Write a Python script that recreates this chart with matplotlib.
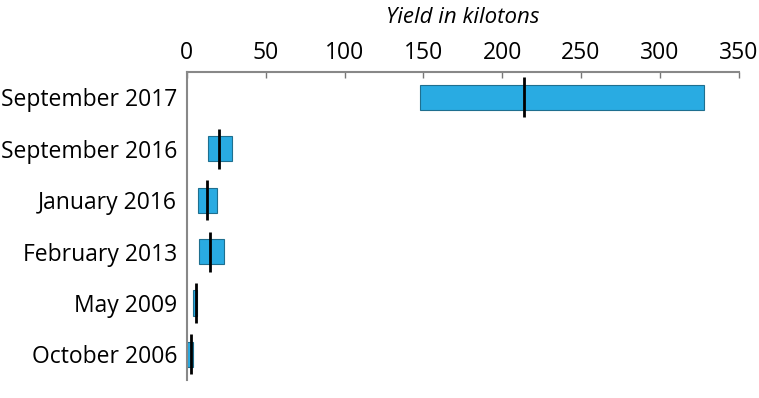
import matplotlib.pyplot as plt
import numpy as np

plt.rcParams['font.family'] = ['Open Sans', 'DejaVu Sans']

# Test dates, top to bottom
tests = ['September 2017', 'September 2016', 'January 2016',
         'February 2013', 'May 2009', 'October 2006']
# Yield estimate range (kilotons) and central estimate
low = [148, 13.2, 7.2, 7.9, 4.1, 0.4]
high = [328, 28.4, 19.3, 23.7, 6.2, 4.1]
mid = [214, 20.4, 12.5, 14.7, 5.6, 2.4]

fig = plt.figure(figsize=(7.59, 3.98), dpi=100)
ax = fig.add_axes([0.2462, 0.045, 0.727, 0.775])

y = np.arange(len(tests))
widths = np.array(high) - np.array(low)
ax.barh(y, widths, left=low, height=0.49, color='#29abe2',
        edgecolor='#1f6f8f', linewidth=0.8, zorder=2)
ax.vlines(mid, y - 0.39, y + 0.39, color='black', linewidth=2, zorder=3)

ax.set_xlim(0, 350)
ax.set_ylim(len(tests) - 0.5, -0.5)
ax.set_yticks(y)
ax.set_yticklabels(tests, fontsize=16.5)
ax.set_xticks(np.arange(0, 351, 50))
ax.xaxis.tick_top()
ax.xaxis.set_label_position('top')
ax.tick_params(axis='x', direction='in', length=4, width=1, color='#777777',
               labelsize=16.5, pad=5)
ax.tick_params(axis='y', length=0, pad=7)
ax.set_xlabel('Yield in kilotons', fontsize=16, style='italic', labelpad=13)

for side in ['right', 'bottom']:
    ax.spines[side].set_visible(False)
for side in ['top', 'left']:
    ax.spines[side].set_color('#888888')
    ax.spines[side].set_linewidth(1.5)

fig.savefig('out.png', dpi=100)
